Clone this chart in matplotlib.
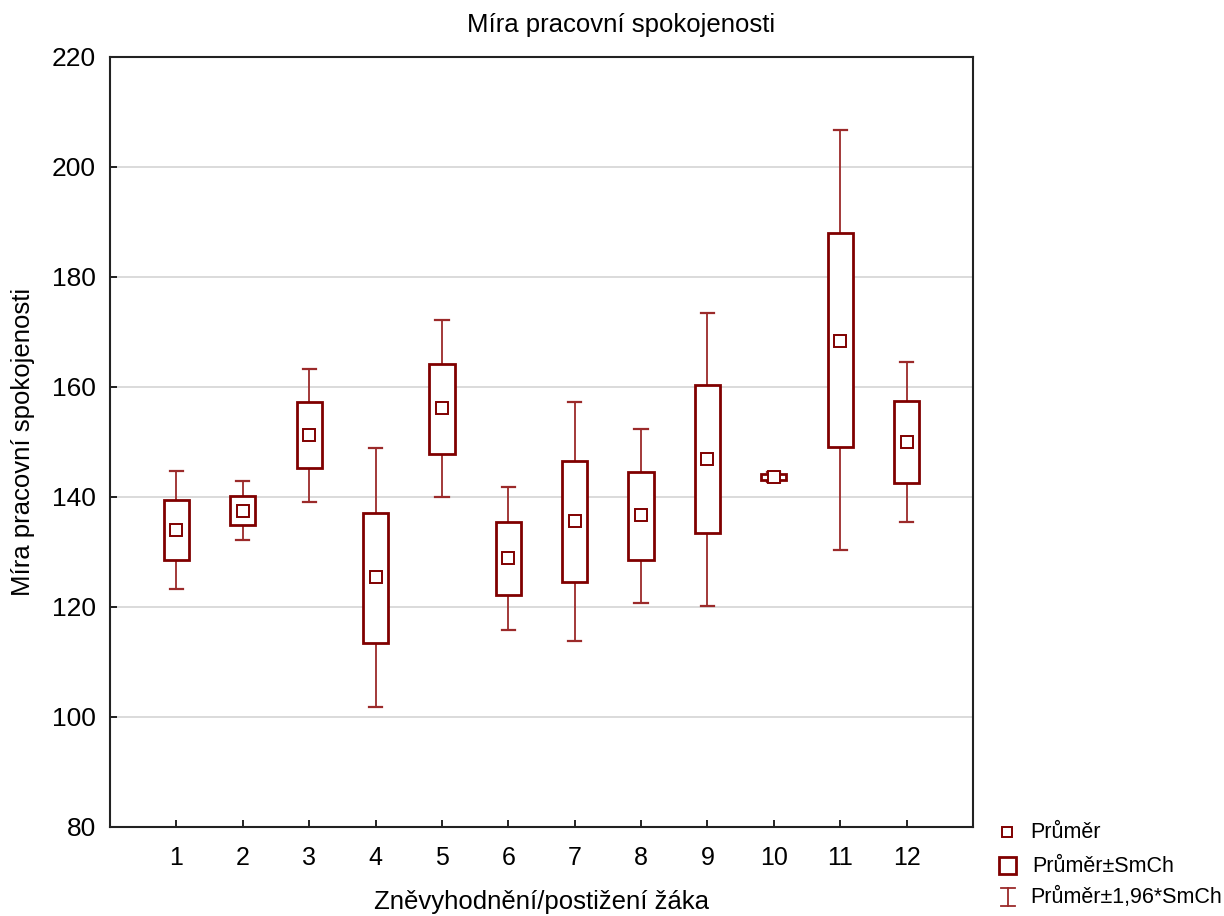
import matplotlib
matplotlib.use("Agg")
import matplotlib.pyplot as plt
from matplotlib.lines import Line2D
from matplotlib.patches import Rectangle

plt.rcParams['font.family'] = ['Liberation Sans', 'DejaVu Sans']

groups = ["1", "2", "3", "4", "5", "6", "7", "8", "9", "10", "11", "12"]
means = [134.0, 137.5, 151.3, 125.4, 156.1, 128.9, 135.6, 136.7, 146.9, 143.6, 168.4, 150.0]
box_lo = [128.5, 134.9, 145.2, 113.4, 147.9, 122.2, 124.5, 128.6, 133.4, 143.1, 149.1, 142.6]
box_hi = [139.4, 140.2, 157.3, 137.1, 164.1, 135.5, 146.5, 144.6, 160.3, 144.2, 188.0, 157.4]
whisk_lo = [123.2, 132.2, 139.1, 101.8, 140.0, 115.8, 113.9, 120.8, 120.2, 142.8, 130.3, 135.4]
whisk_hi = [144.8, 142.9, 163.3, 148.9, 172.1, 141.9, 157.2, 152.4, 173.5, 144.5, 206.7, 164.6]

title = "Míra pracovní spokojenosti"
xlabel = "Zněvyhodnění/postižení žáka"
ylabel = "Míra pracovní spokojenosti"
legend_labels = ["Průměr", "Průměr±SmCh", "Průměr±1,96*SmCh"]

box_color = "#800000"
wh_color = "#9b2a2a"

fig = plt.figure(figsize=(12.24, 9.16), dpi=100)
ax = fig.add_axes([110/1224, 1-827/916, (973-110)/1224, (827-57)/916])

xs = list(range(1, len(groups)+1))
bw = 0.38
cw = 0.2
for x, m, bl, bh, wl, wh in zip(xs, means, box_lo, box_hi, whisk_lo, whisk_hi):
    ax.plot([x, x], [bh, wh], color=wh_color, lw=1.3, zorder=2)
    ax.plot([x, x], [wl, bl], color=wh_color, lw=1.3, zorder=2)
    ax.plot([x-cw/2, x+cw/2], [wh, wh], color=wh_color, lw=1.6, zorder=2)
    ax.plot([x-cw/2, x+cw/2], [wl, wl], color=wh_color, lw=1.6, zorder=2)
    ax.add_patch(Rectangle((x-bw/2, bl), bw, bh-bl, facecolor="white",
                           edgecolor=box_color, lw=2.0, zorder=3))
    ax.plot([x], [m], marker="s", ms=8.5, mfc="white", mec=box_color, mew=1.4,
            ls="none", zorder=4)

ax.set_xlim(0, 13)
ax.set_ylim(80, 220)
ax.set_xticks(xs)
ax.set_xticklabels(groups)
ax.set_yticks(range(80, 221, 20))
ax.tick_params(direction="in", length=5, width=1.2)
ax.tick_params(axis="y", labelsize=19, pad=10)
ax.tick_params(axis="x", labelsize=18, pad=14)
ax.yaxis.grid(True, color="#d4d4d4", lw=1.2)
ax.set_axisbelow(True)
for s in ax.spines.values():
    s.set_linewidth(1.5)
    s.set_color("#222222")

fig.text(621/1224, 1-25/916, title, fontsize=18.5, ha="center", va="center")
ax.set_xlabel(xlabel, fontsize=18.5, labelpad=14)
ax.set_ylabel(ylabel, fontsize=18.5, labelpad=12)

# legend drawn in figure coordinates
def fx(px):
    return px/1224
def fy(py):
    return 1-py/916

fig.add_artist(Line2D([fx(1007)], [fy(832)], marker="s", ms=6.5, mfc="white",
                      mec=box_color, mew=1.4, ls="none", transform=fig.transFigure))
fig.add_artist(Rectangle((fx(999), fy(874)), 17/1224, 17/916, facecolor="white",
                         edgecolor=box_color, lw=2.0, transform=fig.transFigure))
fig.add_artist(Line2D([fx(1008), fx(1008)], [fy(888), fy(906)], color=wh_color, lw=1.3,
                      transform=fig.transFigure))
fig.add_artist(Line2D([fx(1001), fx(1015)], [fy(888), fy(888)], color=wh_color, lw=1.3,
                      transform=fig.transFigure))
fig.add_artist(Line2D([fx(1001), fx(1015)], [fy(906), fy(906)], color=wh_color, lw=1.3,
                      transform=fig.transFigure))
for lab, py, px in zip(legend_labels, [832, 866, 897], [1030, 1032, 1030]):
    fig.text(fx(px), fy(py), lab, fontsize=15.5, va="center", ha="left")

fig.savefig("out.png", dpi=100)
